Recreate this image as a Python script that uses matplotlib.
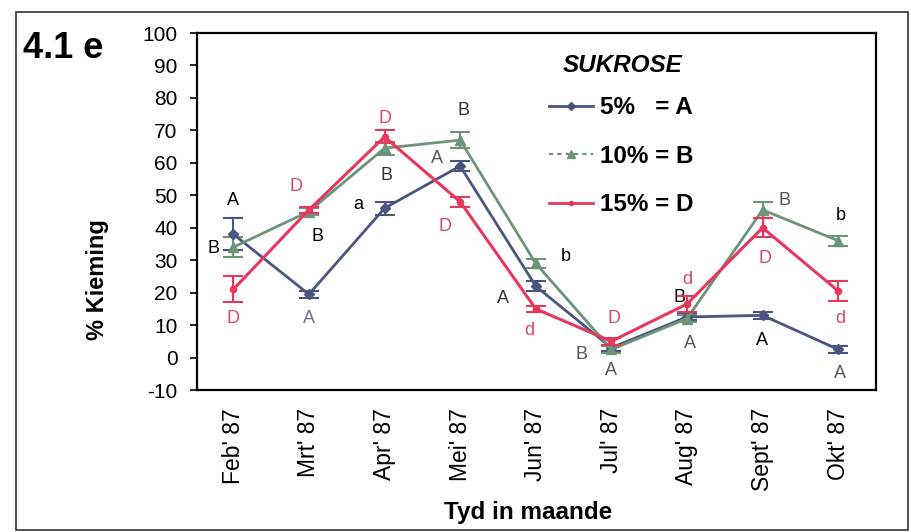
import matplotlib
matplotlib.use('Agg')
import matplotlib.pyplot as plt
from matplotlib.lines import Line2D
from matplotlib.patches import Rectangle

plt.rcParams['font.family'] = ['Liberation Sans', 'DejaVu Sans']
plt.rcParams['axes.unicode_minus'] = False

months = ["Feb' 87", "Mrt' 87", "Apr' 87", "Mei' 87", "Jun' 87",
          "Jul' 87", "Aug' 87", "Sept' 87", "Okt' 87"]

suk5 = [38, 19.5, 46, 59, 22, 3, 12.5, 13, 2.5]
suk5_err = [5, 1, 2, 1.5, 1.5, 1, 1, 1, 1]
suk10 = [34, 45, 64.5, 67, 29, 2.5, 12, 45.5, 36]
suk10_err = [3, 1, 2, 2.5, 1.5, 1, 1, 2.5, 1.5]
suk15 = [21, 45.5, 68, 48, 15, 5, 16.5, 40, 20.5]
suk15_err = [4, 1, 2, 1.5, 1, 1, 2.5, 3, 3]

c5 = '#4a5580'
c10 = '#6b9478'
c15 = '#e8375c'
c_red = '#d84a66'
c_grey = '#555555'

# significance letters: (x index, y value, letter, colour)
letters = [
    (0, 48.4, 'A', 'k'), (-0.26, 33.6, 'B', 'k'), (0, 11.9, 'D', c_red),
    (0.83, 52.7, 'D', c_red), (1.11, 37.3, 'B', 'k'), (1, 11.9, 'A', '#6a6f90'),
    (2, 73.7, 'D', c_red), (2.03, 56.1, 'B', '#333333'), (1.65, 47.2, 'a', 'k'),
    (3.04, 76.2, 'B', '#333333'), (2.69, 61.4, 'A', c_grey), (2.8, 40.4, 'D', c_red),
    (4.4, 31.1, 'b', 'k'), (3.57, 18.1, 'A', '#333333'), (3.92, 8.2, 'd', c_red),
    (5.04, 11.9, 'D', c_red), (4.6, 0.8, 'B', c_grey), (5, -4.1, 'A', c_grey),
    (5.9, 18.4, 'B', 'k'), (6.0, 24, 'd', c_red), (6.04, 4.2, 'A', c_grey),
    (7.29, 48.4, 'B', c_grey), (7.03, 30.5, 'D', c_red), (6.99, 5.1, 'A', 'k'),
    (8.03, 43.8, 'b', 'k'), (8.03, 11.9, 'd', c_red), (8.03, -4.8, 'A', c_grey),
]

fig = plt.figure(figsize=(9.11, 5.32), dpi=100)
fig.patches.append(Rectangle((16/911, 2/532), 892/911, 518/532, transform=fig.transFigure,
                             fill=False, edgecolor='#333333', linewidth=1.2))
ax = fig.add_axes([197/911, 1-390/532, 679/911, 357/532])

x = list(range(len(months)))
ax.errorbar(x, suk5, yerr=suk5_err, color=c5, marker='D', markersize=5.5, lw=2,
            capsize=7, elinewidth=1.5, capthick=1.5, zorder=3)
ax.errorbar(x, suk10, yerr=suk10_err, color=c10, marker='^', markersize=7.5, lw=2,
            capsize=7, elinewidth=1.5, capthick=1.5, zorder=3)
ax.errorbar(x, suk15, yerr=suk15_err, color=c15, marker='o', markersize=4.5, lw=2.2,
            capsize=7, elinewidth=1.5, capthick=1.5, zorder=4)

for lx, ly, t, c in letters:
    ax.text(lx, ly, t, color=c, fontsize=13, ha='center', va='center')

ax.set_xlim(-0.48, 8.5)
ax.set_ylim(-10, 100)
ax.set_yticks(range(-10, 101, 10))
ax.set_xticks(x)
ax.set_xticklabels(months, rotation=90, fontsize=16.5)
ax.tick_params(axis='x', length=0, pad=13)
ax.tick_params(axis='y', length=5, width=1.2, labelsize=15, pad=9)
for s in ax.spines.values():
    s.set_linewidth(1.6)

ax.set_ylabel('% Kieming', fontsize=17, fontweight='bold', va='center')
ax.yaxis.set_label_coords(-0.146, 0.308)
ax.set_xlabel('Tyd in maande', fontsize=17.5, fontweight='bold', va='center')
ax.xaxis.set_label_coords(0.4875, -0.342)

fig.text(23/911, 1-48/532, '4.1 e', fontsize=26, fontweight='bold', va='center')
fig.text(623/911, 1-65/532, 'SUKROSE', fontsize=17.5, fontweight='bold',
         fontstyle='italic', ha='center', va='center')

handles = [Line2D([], [], color=c5, marker='D', markersize=4, lw=2),
           Line2D([], [], color=c10, marker='^', markersize=6, lw=1.5, ls=(0, (2, 2))),
           Line2D([], [], color=c15, marker='o', markersize=3, lw=2)]
leg = ax.legend(handles, ['5%   = A', '10% = B', '15% = D'],
                loc='upper left', bbox_to_anchor=(537/911, 1-84/532),
                bbox_transform=fig.transFigure, frameon=False, borderpad=0,
                prop={'weight': 'bold', 'size': 17.5}, handlelength=1.8,
                handletextpad=0.3, labelspacing=1.05)

fig.savefig('out.png', dpi=100)
